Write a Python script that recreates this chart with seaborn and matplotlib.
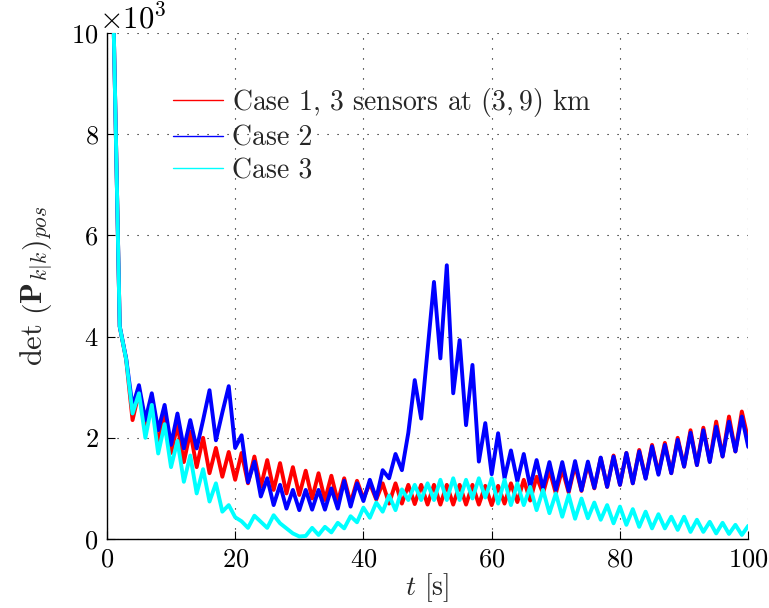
import numpy as np
import pandas as pd
import matplotlib
matplotlib.use("Agg")
import matplotlib.pyplot as plt
import seaborn as sns

# time steps
t = list(range(1, 101))

# det(P) values, in thousands
case1 = [10.5, 4.2, 3.55, 2.35, 2.9, 2.15, 2.7, 1.9, 2.42, 1.7,
         2.25, 1.52, 2.12, 1.42, 2.0, 1.3, 1.8, 1.23, 1.72, 1.17,
         1.7, 1.1, 1.63, 1.03, 1.56, 0.97, 1.5, 0.9, 1.42, 0.87,
         1.35, 0.8, 1.3, 0.77, 1.25, 0.74, 1.2, 0.71, 1.15, 0.8,
         1.1, 0.78, 1.1, 0.7, 1.1, 0.7, 1.07, 0.69, 1.07, 0.68,
         1.07, 0.68, 1.07, 0.68, 1.07, 0.68, 1.07, 0.68, 1.05, 0.67,
         1.05, 0.7, 1.1, 0.73, 1.17, 0.76, 1.23, 0.9, 1.36, 0.9,
         1.38, 0.92, 1.46, 0.95, 1.48, 1.0, 1.6, 1.03, 1.65, 1.07,
         1.7, 1.1, 1.76, 1.2, 1.86, 1.3, 1.9, 1.3, 2.0, 1.43,
         2.15, 1.46, 2.2, 1.53, 2.32, 1.63, 2.42, 1.73, 2.52, 1.96]
case2 = [10.5, 4.2, 3.57, 2.62, 3.04, 2.35, 2.88, 2.15, 2.65, 1.86,
         2.48, 1.79, 2.35, 1.79, 2.35, 2.94, 1.95, 2.5, 3.02, 1.8,
         2.05, 1.12, 1.53, 0.84, 1.2, 0.67, 1.07, 0.6, 0.97, 0.57,
         0.97, 0.58, 0.97, 0.58, 1.0, 0.6, 1.15, 0.64, 1.1, 0.75,
         1.17, 0.8, 1.36, 1.2, 1.68, 1.36, 2.1, 3.14, 2.38, 3.73,
         5.08, 3.57, 5.41, 2.88, 3.93, 2.25, 3.44, 1.53, 2.29, 1.28,
         2.09, 1.2, 1.75, 1.14, 1.68, 1.03, 1.56, 1.0, 1.52, 0.97,
         1.52, 0.95, 1.54, 0.96, 1.53, 1.01, 1.61, 1.03, 1.63, 1.07,
         1.7, 1.1, 1.73, 1.19, 1.83, 1.27, 1.86, 1.3, 1.96, 1.43,
         2.1, 1.46, 2.15, 1.52, 2.22, 1.63, 2.32, 1.73, 2.42, 1.82]
case3 = [10.5, 4.2, 3.55, 2.48, 2.88, 2.0, 2.65, 1.69, 2.27, 1.42,
         1.94, 1.13, 1.65, 0.9, 1.38, 0.74, 1.1, 0.54, 0.67, 0.43,
         0.35, 0.22, 0.46, 0.34, 0.22, 0.47, 0.31, 0.21, 0.11, 0.05,
         0.06, 0.22, 0.08, 0.24, 0.13, 0.32, 0.21, 0.45, 0.33, 0.62,
         0.42, 0.72, 0.54, 0.86, 0.57, 0.98, 0.77, 1.07, 0.77, 1.1,
         0.77, 1.17, 0.77, 1.2, 0.77, 1.17, 0.8, 1.2, 0.82, 1.2,
         0.7, 1.17, 0.67, 1.1, 0.67, 1.03, 0.57, 0.97, 0.51, 0.9,
         0.44, 0.87, 0.4, 0.8, 0.41, 0.72, 0.38, 0.67, 0.31, 0.64,
         0.28, 0.59, 0.24, 0.54, 0.21, 0.49, 0.21, 0.44, 0.18, 0.44,
         0.14, 0.38, 0.14, 0.34, 0.11, 0.32, 0.1, 0.28, 0.08, 0.26]

labels = ["Case 1, 3 sensors at $(3, 9)$ km", "Case 2", "Case 3"]
colors = ["#ff0000", "#0000ff", "#00ffff"]

df = pd.concat([
    pd.DataFrame({"t": t, "det": np.array(v) * 1e3, "case": lab})
    for v, lab in zip([case1, case2, case3], labels)
])

sns.set_style("white")
plt.rcParams["font.family"] = ["cmr10", "DejaVu Serif"]
plt.rcParams["mathtext.fontset"] = "cm"
plt.rcParams["axes.formatter.use_mathtext"] = True
plt.rcParams["axes.unicode_minus"] = False

fig = plt.figure(figsize=(7.69, 6.08), dpi=100)
ax = fig.add_axes([0.139, 0.1135, 0.834, 0.8322])

sns.lineplot(data=df, x="t", y="det", hue="case", palette=colors,
             linewidth=2.8, estimator=None, sort=False, ax=ax)

ax.set_xlim(0, 100)
ax.set_ylim(0, 10000)
ax.set_xticks(np.arange(0, 101, 20))
ax.set_yticks(np.arange(0, 10001, 2000))
ax.ticklabel_format(axis="y", style="sci", scilimits=(3, 3))

ax.grid(True, color="black", linestyle=(0, (1, 8)), linewidth=0.8)
for s in ["top", "right"]:
    ax.spines[s].set_visible(False)
for s in ["left", "bottom"]:
    ax.spines[s].set_color("black")
    ax.spines[s].set_linewidth(1.0)
ax.tick_params(direction="in", length=6, width=0.8, labelsize=19,
               colors="black", left=True, bottom=True, pad=6)

# the x10^3 multiplier, as large as the tick labels
off = ax.yaxis.get_offset_text()
off.set_fontsize(22)
off.set_x(-0.012)

ax.set_xlabel("$t$ [s]", fontsize=20, labelpad=0)
ax.set_ylabel(r"$\det\,\left(\mathbf{P}_{k|k}\right)_{pos}$", fontsize=22, labelpad=12)

leg = ax.legend(loc="upper left", bbox_to_anchor=(0.103, 0.895), frameon=False,
                borderaxespad=0, borderpad=0,
                fontsize=20, handlelength=1.8, handletextpad=0.33, labelspacing=0.22)
for line in leg.get_lines():
    line.set_linewidth(1.0)

fig.savefig("out.png", dpi=100)
